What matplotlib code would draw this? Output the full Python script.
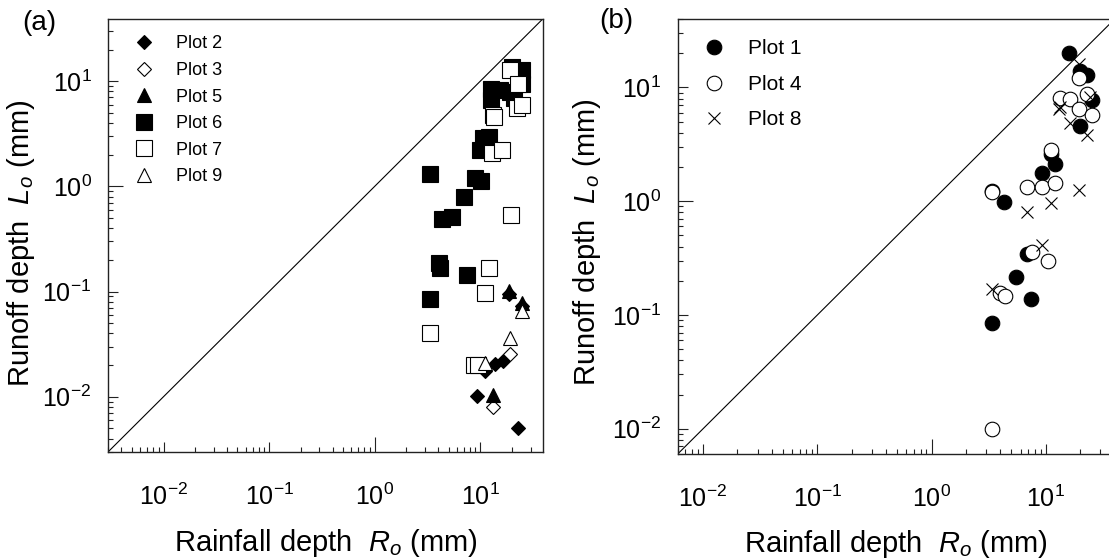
import matplotlib
matplotlib.use("Agg")
import matplotlib.pyplot as plt
from matplotlib.ticker import LogLocator, LogFormatterSciNotation, NullFormatter

plt.rcParams['font.family'] = ['Liberation Sans', 'DejaVu Sans']
plt.rcParams['mathtext.fontset'] = 'custom'
plt.rcParams['mathtext.rm'] = 'Liberation Sans'
plt.rcParams['mathtext.it'] = 'Liberation Sans:italic'
plt.rcParams['mathtext.default'] = 'regular'

# ---------------- Panel (a) data ----------------
plot2_x = [9.3, 22.9, 11.2, 13.9, 16.3, 18.9, 24.7]
plot2_y = [0.0101, 0.0050, 0.0176, 0.0205, 0.0220, 0.094, 0.073]

plot3_x = [13.2, 19.3]
plot3_y = [0.0079, 0.0254]

plot5_x = [13.2, 18.9, 24.7]
plot5_y = [0.0103, 0.102, 0.077]

plot6_x = [3.36, 9.0, 10.2, 6.96, 4.34, 5.45, 4.10, 4.18, 7.49, 3.36,
           10.5, 12.0, 10.0, 12.5, 12.5, 15.5, 19.3, 20.8, 19.8, 24.9, 25.0]
plot6_y = [1.31, 1.20, 1.13, 0.80, 0.49, 0.51, 0.187, 0.169, 0.145, 0.084,
           2.86, 2.96, 2.2, 8.5, 6.6, 8.2, 7.9, 6.85, 13.6, 12.7, 9.5]

plot7_x = [19.3, 22.9, 13.2, 13.5, 22.4, 25.0, 13.0, 16.1, 19.7, 12.0, 11.0, 3.36, 8.8, 9.6]
plot7_y = [12.7, 9.5, 4.75, 4.6, 5.5, 5.9, 2.06, 2.2, 0.535, 0.168, 0.0975, 0.040, 0.020, 0.020]

plot9_x = [25.0, 19.3, 11.0]
plot9_y = [0.066, 0.0365, 0.0208]

# ---------------- Panel (b) data ----------------
plot1_x = [16.0, 22.9, 20.0, 25.4, 20.0, 11.9, 9.25, 4.32, 5.5, 7.4, 3.37, 6.8, 3.37, 11.0]
plot1_y = [20.3, 13.0, 14.0, 7.7, 4.55, 2.14, 1.77, 0.98, 0.217, 0.138, 0.085, 0.344, 1.24, 2.62]

plot4_x = [19.4, 13.2, 16.4, 22.9, 19.4, 25.4, 11.1, 6.9, 9.25, 11.9, 3.37, 7.55, 10.35, 4.0, 4.4, 3.37]
plot4_y = [12.2, 8.15, 7.98, 8.8, 6.5, 5.7, 2.84, 1.33, 1.33, 1.45, 1.2, 0.356, 0.30, 0.155, 0.148, 0.0099]

plot8_x = [19.4, 24.5, 13.0, 13.4, 16.2, 22.9, 19.6, 6.8, 11.1, 9.25, 3.35]
plot8_y = [16.2, 8.25, 6.5, 6.8, 4.9, 3.85, 1.26, 0.81, 0.96, 0.415, 0.169]

lims_a = (0.003, 39.0)
lims_b = (0.006, 40.0)

xlabel = r'Rainfall depth  $\mathit{R_o}$ (mm)'
ylabel = r'Runoff depth  $\mathit{L_o}$ (mm)'

fig = plt.figure(figsize=(11.09, 5.59), dpi=100)
ax_a = fig.add_axes([108.3 / 1109, (559 - 451.7) / 559, 434.4 / 1109, 432.7 / 559])
ax_b = fig.add_axes([677.7 / 1109, (559 - 454) / 559, 437 / 1109, 435 / 559])


def style_axes(ax, lims):
    ax.set_xscale('log')
    ax.set_yscale('log')
    ax.set_xlim(lims)
    ax.set_ylim(lims)
    ax.plot(lims, lims, color='black', lw=0.8, zorder=1)
    for axis in (ax.xaxis, ax.yaxis):
        axis.set_major_locator(LogLocator(base=10, numticks=20))
        axis.set_minor_locator(LogLocator(base=10, subs=range(2, 10), numticks=20))
        axis.set_major_formatter(LogFormatterSciNotation())
        axis.set_minor_formatter(NullFormatter())
    ax.tick_params(which='both', direction='in', top=False, right=False, width=0.8, color='#222222')
    ax.tick_params(which='major', length=7, labelsize=18)
    ax.tick_params(which='minor', length=3.6)
    ax.tick_params(axis='x', which='major', pad=23)
    ax.tick_params(axis='y', which='major', pad=12)
    for s in ax.spines.values():
        s.set_linewidth(1.0)
        s.set_color('#222222')
    ax.set_xlabel(xlabel, fontsize=21)
    ax.set_ylabel(ylabel, fontsize=21)


style_axes(ax_a, lims_a)
style_axes(ax_b, lims_b)

ew = 0.8
# Panel (a)
ax_a.plot(plot2_x, plot2_y, ls='none', marker='D', ms=7.2, mfc='black', mec='black', mew=ew, label='Plot 2', zorder=3)
ax_a.plot(plot3_x, plot3_y, ls='none', marker='D', ms=7.2, mfc='white', mec='black', mew=ew, label='Plot 3', zorder=3)
ax_a.plot(plot5_x, plot5_y, ls='none', marker='^', ms=10.5, mfc='black', mec='black', mew=ew, label='Plot 5', zorder=3)
ax_a.plot(plot6_x, plot6_y, ls='none', marker='s', ms=11, mfc='black', mec='black', mew=ew, label='Plot 6', zorder=3)
ax_a.plot(plot7_x, plot7_y, ls='none', marker='s', ms=11, mfc='white', mec='black', mew=ew, label='Plot 7', zorder=3)
ax_a.plot(plot9_x, plot9_y, ls='none', marker='^', ms=10.5, mfc='white', mec='black', mew=ew, label='Plot 9', zorder=3)

# Panel (b)
ax_b.plot(plot1_x, plot1_y, ls='none', marker='o', ms=10.5, mfc='black', mec='black', mew=ew, label='Plot 1', zorder=3)
ax_b.plot(plot4_x, plot4_y, ls='none', marker='o', ms=10.5, mfc='white', mec='black', mew=ew, label='Plot 4', zorder=3)
ax_b.plot(plot8_x, plot8_y, ls='none', marker='x', ms=8, mec='black', mew=ew, label='Plot 8', zorder=3)

ax_a.legend(loc='upper left', bbox_to_anchor=(0.062, 0.962), frameon=False, fontsize=13,
            borderpad=0, borderaxespad=0, handlelength=1.0, handletextpad=1.24,
            labelspacing=0.53, numpoints=1)
ax_b.legend(loc='upper left', bbox_to_anchor=(0.059, 0.953), frameon=False, fontsize=15,
            borderpad=0, borderaxespad=0, handlelength=1.0, handletextpad=1.13,
            labelspacing=0.79, numpoints=1)

ax_a.xaxis.set_label_coords(0.5, -0.173)
ax_b.xaxis.set_label_coords(0.5, -0.17)
ax_a.yaxis.set_label_coords(-0.164, 0.483)
ax_b.yaxis.set_label_coords(-0.170, 0.487)

fig.text(39 / 1109, 1 - 23 / 559, '(a)', fontsize=20, ha='center', va='center')
fig.text(616 / 1109, 1 - 21 / 559, '(b)', fontsize=20, ha='center', va='center')

# the 10^0 major ticks are drawn a little longer in the original
fig.canvas.draw()
for ax in (ax_a, ax_b):
    for axis in (ax.xaxis, ax.yaxis):
        locs = axis.get_majorticklocs()
        for loc, tick in zip(locs, axis.get_major_ticks(len(locs))):
            if abs(loc - 1.0) < 1e-9:
                tick.tick1line.set_markersize(11)

fig.savefig('out.png', dpi=100)
